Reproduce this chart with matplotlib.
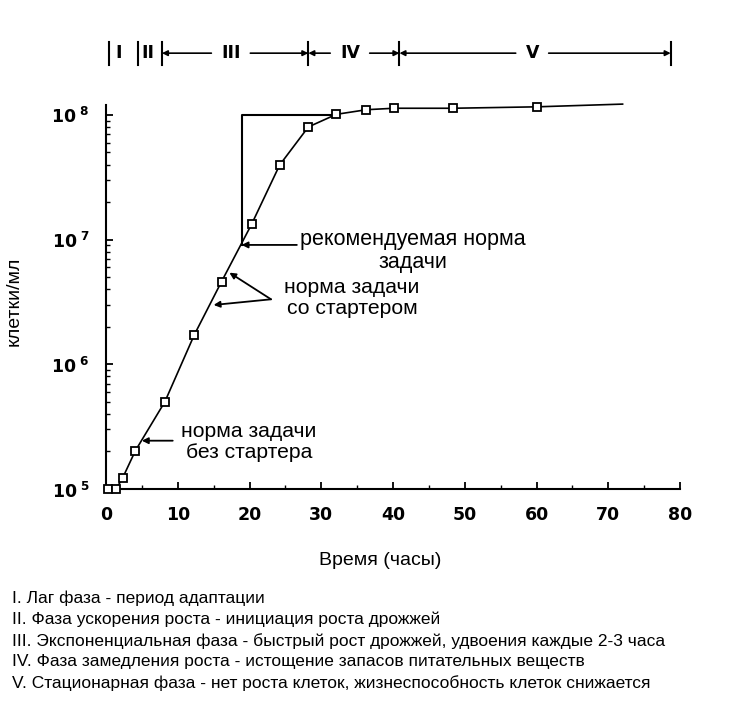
import matplotlib
matplotlib.use("Agg")
import matplotlib.pyplot as plt
from matplotlib.ticker import FixedLocator, MultipleLocator, NullFormatter, LogLocator

plt.rcParams['font.family'] = ['Liberation Sans', 'DejaVu Sans']
plt.rcParams['mathtext.fontset'] = 'dejavusans'

# %% Data
hours = [0.3, 1.4, 2.3, 4.1, 8.2, 12.3, 16.1, 20.3, 24.2, 28.2, 32.1, 36.3, 40.1, 48.3, 60.0, 72.0]
cells = [1.0e5, 1.0e5, 1.22e5, 2.03e5, 5.0e5, 1.72e6, 4.6e6, 1.33e7, 3.96e7, 8.0e7,
         1.01e8, 1.10e8, 1.13e8, 1.13e8, 1.16e8, 1.22e8]
n_markers = 15  # last point (72 h) has no marker

# reference lines for recommended pitch rate
ref_t = 19.0
ref_low = 9.06e6
ref_high = 1.0e8
ref_t_end = 31.7

# phases on the top bar
phase_edges = [0.4, 4.5, 7.8, 28.2, 40.9, 78.7]
phase_names = ["I", "II", "III", "IV", "V"]
phase_centers = [1.8, 5.8, 17.4, 34.0, 59.4]

y_ticks = [1e5, 1e6, 1e7, 1e8]
y_ticklabels = [r'$\mathbf{10}^{\ \mathbf{%d}}$' % e for e in (5, 6, 7, 8)]
x_ticks = [0, 10, 20, 30, 40, 50, 60, 70, 80]

notes = ["I. Лаг фаза - период адаптации",
         "II. Фаза ускорения роста - инициация роста дрожжей",
         "III. Экспоненциальная фаза - быстрый рост дрожжей, удвоения каждые 2-3 часа",
         "IV. Фаза замедления роста - истощение запасов питательных веществ",
         "V. Стационарная фаза - нет роста клеток, жизнеспособность клеток снижается"]

# %% Plot
fig = plt.figure(figsize=(7.37, 7.07), dpi=100)
ax = fig.add_axes([106 / 737, 1 - 489 / 707, 574 / 737, 384 / 707])

ax.plot(hours, cells, color="black", lw=1.2, clip_on=False, zorder=3)
ax.plot(hours[:n_markers], cells[:n_markers], ls="none", marker="s", ms=6.2,
        mfc="white", mec="black", mew=1.3, clip_on=False, zorder=4)

ax.plot([ref_t, ref_t, ref_t_end], [ref_low, ref_high, ref_high], color="black", lw=1.5, zorder=2)

ax.set_yscale("log")
ax.set_xlim(0, 80)
ax.set_ylim(1e5, 1.2e8)

for s in ["top", "right"]:
    ax.spines[s].set_visible(False)
for s in ["left", "bottom"]:
    ax.spines[s].set_linewidth(1.5)

ax.yaxis.set_major_locator(FixedLocator(y_ticks))
ax.set_yticklabels(y_ticklabels)
ax.yaxis.set_minor_locator(LogLocator(base=10, subs=range(2, 10)))
ax.yaxis.set_minor_formatter(NullFormatter())
ax.xaxis.set_major_locator(FixedLocator(x_ticks))
ax.xaxis.set_minor_locator(MultipleLocator(5))
ax.set_xticklabels([str(v) for v in x_ticks])

ax.tick_params(which="major", direction="in", length=5, width=1.3, labelsize=12.5)
ax.tick_params(which="minor", direction="in", length=3, width=1.0)
ax.tick_params(axis="x", pad=12)
ax.tick_params(axis="y", pad=12)
for lab in ax.get_xticklabels():
    lab.set_fontfamily("DejaVu Sans")
    lab.set_fontweight("bold")

ax.set_xlabel("Время (часы)", fontsize=14)
ax.xaxis.set_label_coords(0.477, -0.164)
ax.set_ylabel("клетки/мл", fontsize=14)
ax.yaxis.set_label_coords(-0.146, 0.49)

# annotations
arrow = dict(arrowstyle="-|>", color="black", lw=1.3, mutation_scale=9, shrinkA=0, shrinkB=0)
ax.annotate("", xy=(18.9, 9.06e6), xytext=(26.6, 9.06e6), arrowprops=arrow)
ax.text(42.8, 8.1e6, "рекомендуемая норма\nзадачи", ha="center", va="center",
        fontsize=15.5, linespacing=1.15)
ax.annotate("", xy=(17.2, 5.43e6), xytext=(23.0, 3.32e6), arrowprops=arrow)
ax.annotate("", xy=(15.0, 2.99e6), xytext=(23.0, 3.32e6), arrowprops=arrow)
ax.text(34.3, 3.4e6, "норма задачи\nсо стартером", ha="center", va="center",
        fontsize=15.2, linespacing=1.18)
ax.annotate("", xy=(5.0, 2.44e5), xytext=(9.3, 2.44e5), arrowprops=arrow)
ax.text(19.9, 2.38e5, "норма задачи\nбез стартера", ha="center", va="center",
        fontsize=15.2, linespacing=1.14)

# phase bar on top
tr = ax.get_xaxis_transform()
bar_y = 1.135
for e in phase_edges:
    ax.plot([e, e], [1.104, 1.164], color="black", lw=1.5, transform=tr, clip_on=False)
bar_arrow = dict(arrowstyle="-|>", color="black", lw=1.2, mutation_scale=8, shrinkA=5, shrinkB=0)
for i, (name, c) in enumerate(zip(phase_names, phase_centers)):
    ax.text(c, bar_y, name, transform=tr, ha="center", va="center",
            fontsize=12.5, fontweight="bold", family="DejaVu Sans")
    if i >= 2:
        for edge in (phase_edges[i], phase_edges[i + 1]):
            ax.annotate(name, xy=(edge, bar_y), xycoords=tr, xytext=(c, bar_y), textcoords=tr,
                        ha="center", va="center", fontsize=12.5, fontweight="bold",
                        family="DejaVu Sans", color="none", arrowprops=bar_arrow,
                        annotation_clip=False)

fig.text(12 / 737, 1 - 590 / 707, "\n".join(notes), ha="left", va="top",
         fontsize=12.5, family=["Liberation Sans Narrow", "Liberation Sans"], linespacing=1.47)

fig.savefig("out.png", dpi=100)
